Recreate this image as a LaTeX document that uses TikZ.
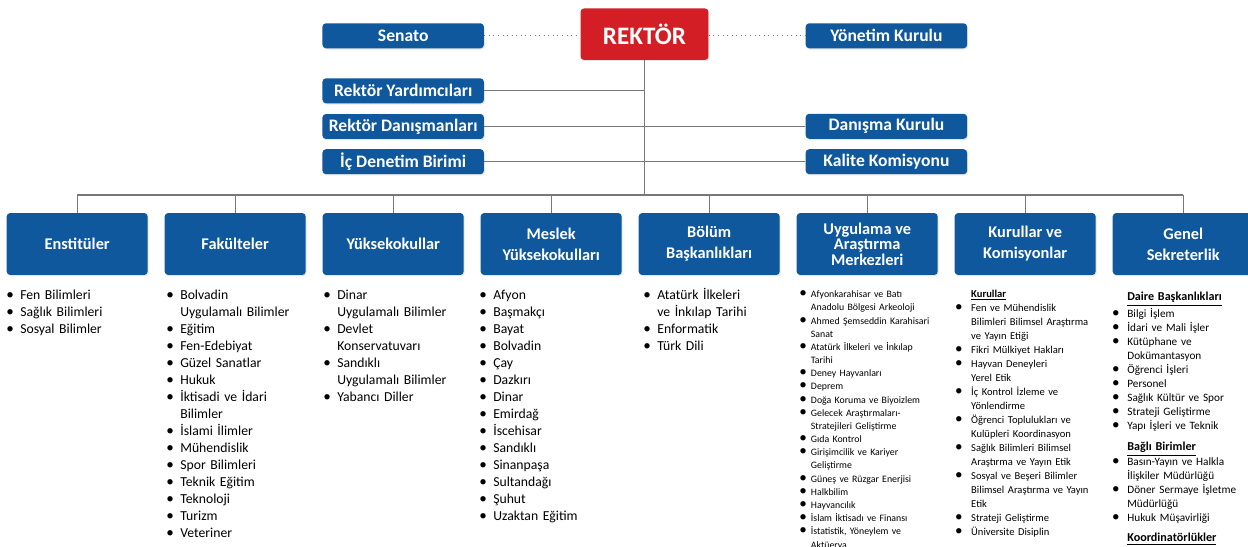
\documentclass[tikz,border=0pt]{standalone}
\usepackage{fontspec}
\setmainfont{Carlito}
\usetikzlibrary{shadows}
\definecolor{orgblue}{RGB}{15,88,158}
\definecolor{orgred}{RGB}{212,30,38}
\definecolor{orgline}{RGB}{120,120,120}
\newlength{\orgbw}
\newcommand{\orgitem}[1]{\par\noindent\makebox[\orgbw][l]{{\fontsize{8.6}{8}\selectfont\textbullet}}#1}
\newcommand{\orgcont}[1]{\par\noindent\hspace*{\orgbw}#1}
\newcommand{\orghead}[1]{\orgcont{\textbf{\underline{#1}}}}
\tikzset{
	link/.style = {draw = orgline, line width = 0.6pt},
	headbox/.style = {fill = orgred, text = white, rounded corners = 2pt, inner sep = 0pt, minimum width = 2.56cm, minimum height = 1.03cm, font = \bfseries\fontsize{14.3}{16}\selectfont, drop shadow = {opacity = 0.2, shadow xshift = 0.5pt, shadow yshift = -0.7pt}},
	unitbox/.style = {fill = orgblue, text = white, rounded corners = 2pt, inner sep = 0pt, minimum width = 3.23cm, minimum height = 0.5cm, font = \bfseries\fontsize{10}{12}\selectfont, drop shadow = {opacity = 0.2, shadow xshift = 0.5pt, shadow yshift = -0.7pt}},
	colbox/.style = {fill = orgblue, text = white, rounded corners = 2pt, inner sep = 0pt, minimum width = 2.82cm, minimum height = 1.24cm, align = center, drop shadow = {opacity = 0.2, shadow xshift = 0.5pt, shadow yshift = -0.7pt}},
	listnode/.style = {anchor = base west, inner sep = 0pt, text width = 3.4cm, align = left}
}
\begin{document}
\begin{tikzpicture}[x = 0.02cm, y = -0.02cm]
	\useasboundingbox (0, 0) rectangle (1248, 547);
	\clip (0, 0) rectangle (1248, 547);
	\node[headbox] (rektor) at (644.5, 34.2) {REKTÖR};
	\foreach \name/\j/\txt in {senato/35.8/Senato, ryard/90.8/Rektör Yardımcıları, rdan/126.5/Rektör Danışmanları, icden/161.7/İç Denetim Birimi}{
		\node[unitbox] (\name) at (403.2, \j) {\txt};}
	\foreach \name/\j/\txt in {yonetim/35.8/Yönetim Kurulu, dankur/126.3/Danışma Kurulu, kalite/161.7/Kalite Komisyonu}{
		\node[unitbox] (\name) at (886.4, \j) {\txt};}
	\coordinate (bus) at (644.5, 195);
	\draw[link, dotted] (senato.east) -- (senato.east -| rektor.west);
	\draw[link, dotted] (yonetim.west -| rektor.east) -- (yonetim.west);
	\draw[link] (rektor.south) -- (bus);
	\foreach \name in {ryard, rdan, icden}
		\draw[link] (\name.east) -- (\name.east -| rektor.south);
	\foreach \name in {dankur, kalite}
		\draw[link] (\name.west) -- (\name.west -| rektor.south);
	\foreach \i/\txt/\ls in {0/Enstitüler/12, 1/Fakülteler/12, 2/Yüksekokullar/12, 3/{Meslek\\Yüksekokulları}/11.9, 4/{Bölüm\\Başkanlıkları}/11.9, 5/{Uygulama ve\\Araştırma\\Merkezleri}/8.8, 6/{Kurullar ve\\Komisyonlar}/11.9, 7/{Genel\\Sekreterlik}/11.9}{
		\node[colbox, font = \bfseries\fontsize{9.3}{\ls}\selectfont] (c\i) at (77.2 + 158 * \i, 244) {\txt};
		\draw[link] (c\i.north |- bus) -- (c\i.north);}
	\draw[link] (c0.north |- bus) -- (c7.north |- bus);
	\node[listnode, font = \fontsize{7.8}{9.66}\selectfont\setlength{\orgbw}{8pt}] (l0) at (5.9, 283) {\orgitem{Fen Bilimleri}\orgitem{Sağlık Bilimleri}\orgitem{Sosyal Bilimler}};
	\node[listnode, font = \fontsize{7.8}{9.66}\selectfont\setlength{\orgbw}{8pt}] (l1) at (165.9, 283) {\orgitem{Bolvadin}\orgcont{Uygulamalı Bilimler}\orgitem{Eğitim}\orgitem{Fen-Edebiyat}\orgitem{Güzel Sanatlar}\orgitem{Hukuk}\orgitem{İktisadi ve İdari}\orgcont{Bilimler}\orgitem{İslami İlimler}\orgitem{Mühendislik}\orgitem{Spor Bilimleri}\orgitem{Teknik Eğitim}\orgitem{Teknoloji}\orgitem{Turizm}\orgitem{Veteriner}};
	\node[listnode, font = \fontsize{7.8}{9.66}\selectfont\setlength{\orgbw}{8pt}] (l2) at (322.9, 283) {\orgitem{Dinar}\orgcont{Uygulamalı Bilimler}\orgitem{Devlet}\orgcont{Konservatuvarı}\orgitem{Sandıklı}\orgcont{Uygulamalı Bilimler}\orgitem{Yabancı Diller}};
	\node[listnode, font = \fontsize{7.8}{9.66}\selectfont\setlength{\orgbw}{8pt}] (l3) at (478.9, 283) {\orgitem{Afyon}\orgitem{Başmakçı}\orgitem{Bayat}\orgitem{Bolvadin}\orgitem{Çay}\orgitem{Dazkırı}\orgitem{Dinar}\orgitem{Emirdağ}\orgitem{İscehisar}\orgitem{Sandıklı}\orgitem{Sinanpaşa}\orgitem{Sultandağı}\orgitem{Şuhut}\orgitem{Uzaktan Eğitim}};
	\node[listnode, font = \fontsize{7.8}{9.66}\selectfont\setlength{\orgbw}{8pt}] (l4) at (642.9, 283) {\orgitem{Atatürk İlkeleri}\orgcont{ve İnkılap Tarihi}\orgitem{Enformatik}\orgitem{Türk Dili}};
	\node[listnode, font = \fontsize{5.6}{7.5}\selectfont\setlength{\orgbw}{6.6pt}] (l5) at (799, 284.5) {\orgitem{Afyonkarahisar ve Batı}\orgcont{Anadolu Bölgesi Arkeoloji}\orgitem{Ahmed Şemseddin Karahisari}\orgcont{Sanat}\orgitem{Atatürk İlkeleri ve İnkılap}\orgcont{Tarihi}\orgitem{Deney Hayvanları}\orgitem{Deprem}\orgitem{Doğa Koruma ve Biyoizlem}\orgitem{Gelecek Araştırmaları-}\orgcont{Stratejileri Geliştirme}\orgitem{Gıda Kontrol}\orgitem{Girişimcilik ve Kariyer}\orgcont{Geliştirme}\orgitem{Güneş ve Rüzgar Enerjisi}\orgitem{Halkbilim}\orgitem{Hayvancılık}\orgitem{İslam İktisadı ve Finansı}\orgitem{İstatistik, Yöneylem ve}\orgcont{Aktüerya}};
	\node[listnode, font = \fontsize{6}{8}\selectfont\setlength{\orgbw}{9.2pt}] (l6) at (954.7, 283) {\orghead{Kurullar}\orgitem{Fen ve Mühendislik}\orgcont{Bilimleri Bilimsel Araştırma}\orgcont{ve Yayın Etiği}\orgitem{Fikri Mülkiyet Hakları}\orgitem{Hayvan Deneyleri}\orgcont{Yerel Etik}\orgitem{İç Kontrol İzleme ve}\orgcont{Yönlendirme}\orgitem{Öğrenci Toplulukları ve}\orgcont{Kulüpleri Koordinasyon}\orgitem{Sağlık Bilimleri Bilimsel}\orgcont{Araştırma ve Yayın Etik}\orgitem{Sosyal ve Beşeri Bilimler}\orgcont{Bilimsel Araştırma ve Yayın}\orgcont{Etik}\orgitem{Strateji Geliştirme}\orgitem{Üniversite Disiplin}};
	\node[listnode, font = \fontsize{6.4}{8}\selectfont\setlength{\orgbw}{8.7pt}] (l7) at (1111.7, 286.9) {\orghead{\fontsize{6.9}{8}\selectfont Daire Başkanlıkları}\orgitem{Bilgi İşlem}\orgitem{İdari ve Mali İşler}\orgitem{Kütüphane ve}\orgcont{Dokümantasyon}\orgitem{Öğrenci İşleri}\orgitem{Personel}\orgitem{Sağlık Kültür ve Spor}\orgitem{Strateji Geliştirme}\orgitem{Yapı İşleri ve Teknik}\par\vspace{4pt}\orghead{\fontsize{6.9}{8}\selectfont Bağlı Birimler}\orgitem{Basın-Yayın ve Halkla}\orgcont{İlişkiler Müdürlüğü}\orgitem{Döner Sermaye İşletme}\orgcont{Müdürlüğü}\orgitem{Hukuk Müşavirliği}\par\vspace{3.5pt}\orghead{\fontsize{6.9}{8}\selectfont Koordinatörlükler}};
\end{tikzpicture}
\end{document}
